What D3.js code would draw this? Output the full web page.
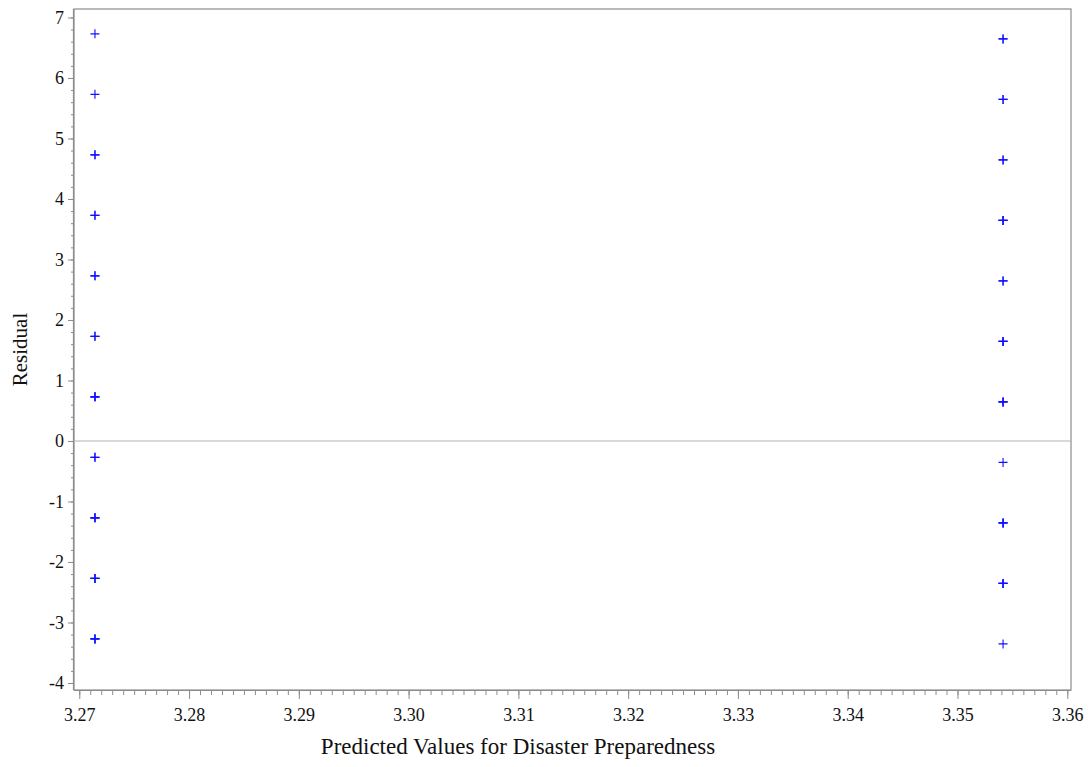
<!DOCTYPE html>
<html><head><meta charset="utf-8">
<script src="https://cdn.jsdelivr.net/npm/d3@7"></script>
<style>html,body{margin:0;padding:0;background:#fff;}svg{display:block;}</style>
</head><body>
<svg id="chart" width="1089" height="767"></svg>
<script>
// Data: residuals vs predicted values (two predicted groups)
const predLeft = 3.27143;
const predRight = 3.35415;
const residLeft  = [6.729, 5.729, 4.729, 3.729, 2.729, 1.729, 0.729, -0.271, -1.271, -2.271, -3.271];
const countLeft  = [1, 1, 2, 2, 2, 2, 3, 2, 3, 3, 3];
const residRight = [6.646, 5.646, 4.646, 3.646, 2.646, 1.646, 0.646, -0.354, -1.354, -2.354, -3.354];
const countRight = [2, 2, 2, 3, 2, 3, 3, 1, 3, 3, 1];
const xTicks = [3.27, 3.28, 3.29, 3.30, 3.31, 3.32, 3.33, 3.34, 3.35, 3.36];
const yTicks = [-4, -3, -2, -1, 0, 1, 2, 3, 4, 5, 6, 7];
const xTitle = "Predicted Values for Disaster Preparedness";
const yTitle = "Residual";

const points = [];
residLeft.forEach((r, i) => { for (let k = 0; k < countLeft[i]; k++) points.push({x: predLeft, y: r}); });
residRight.forEach((r, i) => { for (let k = 0; k < countRight[i]; k++) points.push({x: predRight, y: r}); });

const svg = d3.select("#chart");
const L = 74, R = 1071, T = 9, B = 690;
const x = d3.scaleLinear().domain([3.26952, 3.36034]).range([L, R]);
const y = d3.scaleLinear().domain([-4.116, 7.14]).range([B, T]);
const font = "'Liberation Serif','Times New Roman',serif";

// frame
svg.append("rect").attr("x", L).attr("y", T).attr("width", R - L).attr("height", B - T)
  .attr("fill", "none").attr("stroke", "#8c8c8c").attr("stroke-width", 1.2);

// zero reference line
svg.append("line").attr("x1", L).attr("x2", R).attr("y1", y(0)).attr("y2", y(0))
  .attr("stroke", "#b4b4b4").attr("stroke-width", 1.2);

// x axis
const xMinor = d3.range(0, 91).map(i => 3.27 + i * 0.001);
svg.append("g").attr("transform", `translate(0,${B})`)
  .call(d3.axisBottom(x).tickValues(xMinor).tickSize(5).tickFormat(""))
  .call(g => g.select(".domain").remove())
  .call(g => g.selectAll("line").attr("stroke", "#8c8c8c"));
svg.append("g").attr("transform", `translate(0,${B})`)
  .call(d3.axisBottom(x).tickValues(xTicks).tickSize(9).tickPadding(9).tickFormat(d3.format(".2f")))
  .call(g => g.select(".domain").attr("stroke", "#8c8c8c").attr("stroke-width", 1.2).attr("d", `M${L},0.5H${R}`))
  .call(g => g.selectAll("line").attr("stroke", "#8c8c8c"))
  .call(g => g.selectAll("text").attr("font-family", font).attr("font-size", 18).attr("fill", "#111"));

// y axis
const yMinor = d3.range(0, 56).map(i => -4 + i * 0.2);
svg.append("g").attr("transform", `translate(${L},0)`)
  .call(d3.axisLeft(y).tickValues(yMinor).tickSize(3).tickFormat(""))
  .call(g => g.select(".domain").remove())
  .call(g => g.selectAll("line").attr("stroke", "#8c8c8c"));
svg.append("g").attr("transform", `translate(${L},0)`)
  .call(d3.axisLeft(y).tickValues(yTicks).tickSize(6).tickPadding(4).tickFormat(d => String(d)))
  .call(g => g.select(".domain").attr("stroke", "#8c8c8c").attr("stroke-width", 1.2).attr("d", `M-0.5,${T}V${B}`))
  .call(g => g.selectAll("line").attr("stroke", "#8c8c8c"))
  .call(g => g.selectAll("text").attr("font-family", font).attr("font-size", 18).attr("fill", "#111"));

// markers
const s = 4.5;
svg.append("g").selectAll("path").data(points).join("path")
  .attr("d", d => { const cx = x(d.x), cy = y(d.y); return `M${cx - s},${cy}H${cx + s}M${cx},${cy - s}V${cy + s}`; })
  .attr("fill", "none").attr("stroke", "#1010ff").attr("stroke-width", 1.1);

// titles
svg.append("text").attr("x", 518).attr("y", 754).attr("text-anchor", "middle")
  .attr("font-family", font).attr("font-size", 23).attr("fill", "#111").text(xTitle);
svg.append("text").attr("transform", `translate(27,${(T + B) / 2}) rotate(-90)`).attr("text-anchor", "middle")
  .attr("font-family", font).attr("font-size", 21).attr("fill", "#111").text(yTitle);
</script>
</body></html>
